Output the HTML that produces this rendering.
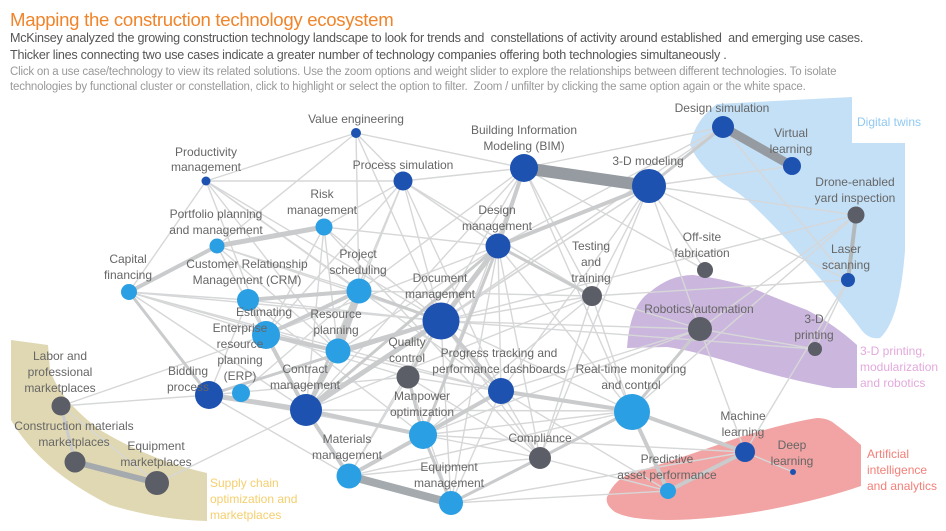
<!DOCTYPE html>
<html><head><meta charset="utf-8"><style>
body{margin:0;background:#fff;width:946px;height:531px;overflow:hidden;font-family:"Liberation Sans",sans-serif}
.t{position:absolute;left:10px;top:9px;font-size:18.6px;color:#f0842a;letter-spacing:-0.3px}
.d{position:absolute;left:10px;top:30px;font-size:12.6px;color:#555;line-height:17px;letter-spacing:-0.25px;white-space:nowrap}
.i{position:absolute;left:10px;top:65px;font-size:11.5px;color:#999;line-height:15px;letter-spacing:-0.2px;white-space:nowrap}
svg{position:absolute;left:0;top:0}
svg text{font-family:"Liberation Sans",sans-serif;font-size:12px;fill:#666;text-anchor:middle}
</style></head><body>
<div class="t">Mapping the construction technology ecosystem</div>
<div class="d">McKinsey analyzed the growing construction technology landscape to look for trends and&nbsp; constellations of activity around established&nbsp; and emerging use cases.<br>Thicker lines connecting two use cases indicate a greater number of technology companies offering both technologies simultaneously .</div>
<div class="i">Click on a use case/technology to view its related solutions. Use the zoom options and weight slider to explore the relationships between different technologies. To isolate<br>technologies by functional cluster or constellation, click to highlight or select the option to filter.&nbsp; Zoom / unfilter by clicking the same option again or the white space.</div>
<svg width="946" height="531" viewBox="0 0 946 531">
<path d="M717,104 L852,97 L852,143 L905,143 L905,250 Q900,320 880,338 Q868,340 860,328 Q835,295 787,240 Q745,195 733,190 Q700,170 690,145 Q695,120 717,104 Z" fill="#c4e0f7"/>
<path d="M627,348 Q630,305 650,292 Q670,275 693,275 Q720,278 750,287 Q780,300 807,310 Q835,325 857,345 L857,388 L833,388 Q780,378 733,363 Q690,350 667,347 Z" fill="#cbb6dd"/>
<path d="M607,497 Q615,478 633,473 Q690,455 740,437 Q790,422 817,418 Q828,418 835,424 Q850,435 861,445 L861,486 Q820,500 767,510 Q710,520 667,520 Q630,520 615,512 Q605,505 607,497 Z" fill="#f1a4a3"/>
<path d="M11,340 L11,420 Q40,470 110,505 Q160,520 207,521 L207,473 Q150,460 100,430 Q60,400 50,370 L48,345 Z" fill="#e0d8b2"/>
<g fill="none" stroke-linecap="round">
<g stroke="#d6d7d8" stroke-width="1.4">
<line x1="356" y1="133" x2="206" y2="181"/><line x1="356" y1="133" x2="403" y2="181"/><line x1="356" y1="133" x2="524" y2="168"/><line x1="356" y1="133" x2="217" y2="246"/><line x1="356" y1="133" x2="359" y2="291"/><line x1="356" y1="133" x2="441" y2="321"/>
<line x1="206" y1="181" x2="403" y2="181"/><line x1="206" y1="181" x2="359" y2="291"/><line x1="206" y1="181" x2="266" y2="335"/><line x1="206" y1="181" x2="441" y2="321"/><line x1="206" y1="181" x2="129" y2="292"/><line x1="206" y1="181" x2="338" y2="351"/><line x1="206" y1="181" x2="501" y2="391"/>
<line x1="403" y1="181" x2="524" y2="168"/><line x1="403" y1="181" x2="324" y2="227"/><line x1="403" y1="181" x2="498" y2="246"/><line x1="403" y1="181" x2="441" y2="321"/><line x1="403" y1="181" x2="359" y2="291"/><line x1="403" y1="181" x2="266" y2="335"/><line x1="403" y1="181" x2="306" y2="410"/><line x1="403" y1="181" x2="501" y2="391"/><line x1="403" y1="181" x2="592" y2="296"/>
<line x1="524" y1="168" x2="359" y2="291"/><line x1="524" y1="168" x2="592" y2="296"/><line x1="524" y1="168" x2="723" y2="127"/><line x1="524" y1="168" x2="306" y2="410"/><line x1="524" y1="168" x2="631" y2="411"/><line x1="524" y1="168" x2="705" y2="270"/><line x1="524" y1="168" x2="423" y2="435"/><line x1="524" y1="168" x2="349" y2="476"/>
<line x1="649" y1="186" x2="792" y2="166"/><line x1="649" y1="186" x2="856" y2="215"/><line x1="649" y1="186" x2="848" y2="280"/><line x1="649" y1="186" x2="705" y2="270"/><line x1="649" y1="186" x2="700" y2="329"/><line x1="649" y1="186" x2="592" y2="296"/><line x1="649" y1="186" x2="441" y2="321"/><line x1="649" y1="186" x2="501" y2="391"/><line x1="649" y1="186" x2="306" y2="410"/><line x1="649" y1="186" x2="540" y2="458"/>
<line x1="723" y1="127" x2="441" y2="321"/><line x1="723" y1="127" x2="848" y2="280"/><line x1="723" y1="127" x2="498" y2="246"/>
<line x1="856" y1="215" x2="700" y2="329"/><line x1="856" y1="215" x2="441" y2="321"/><line x1="856" y1="215" x2="631" y2="411"/><line x1="848" y1="280" x2="745" y2="452"/><line x1="848" y1="280" x2="815" y2="349"/><line x1="848" y1="280" x2="592" y2="296"/>
<line x1="700" y1="329" x2="815" y2="349"/><line x1="700" y1="329" x2="745" y2="452"/><line x1="700" y1="329" x2="592" y2="296"/><line x1="700" y1="329" x2="441" y2="321"/><line x1="700" y1="329" x2="501" y2="391"/><line x1="700" y1="329" x2="423" y2="435"/>
<line x1="592" y1="296" x2="540" y2="458"/><line x1="592" y1="296" x2="441" y2="321"/><line x1="592" y1="296" x2="359" y2="291"/><line x1="592" y1="296" x2="631" y2="411"/><line x1="592" y1="296" x2="306" y2="410"/><line x1="592" y1="296" x2="423" y2="435"/>
<line x1="498" y1="246" x2="266" y2="335"/><line x1="498" y1="246" x2="338" y2="351"/><line x1="498" y1="246" x2="501" y2="391"/><line x1="498" y1="246" x2="631" y2="411"/><line x1="498" y1="246" x2="540" y2="458"/><line x1="498" y1="246" x2="451" y2="503"/>
<line x1="324" y1="227" x2="441" y2="321"/><line x1="324" y1="227" x2="338" y2="351"/><line x1="324" y1="227" x2="266" y2="335"/><line x1="324" y1="227" x2="306" y2="410"/><line x1="324" y1="227" x2="540" y2="458"/><line x1="324" y1="227" x2="498" y2="246"/>
<line x1="217" y1="246" x2="359" y2="291"/><line x1="217" y1="246" x2="266" y2="335"/><line x1="217" y1="246" x2="338" y2="351"/><line x1="217" y1="246" x2="306" y2="410"/><line x1="217" y1="246" x2="441" y2="321"/>
<line x1="129" y1="292" x2="248" y2="300"/><line x1="129" y1="292" x2="441" y2="321"/><line x1="129" y1="292" x2="338" y2="351"/><line x1="129" y1="292" x2="306" y2="410"/><line x1="129" y1="292" x2="266" y2="335"/><line x1="129" y1="292" x2="501" y2="391"/>
<line x1="248" y1="300" x2="441" y2="321"/><line x1="248" y1="300" x2="306" y2="410"/><line x1="248" y1="300" x2="209" y2="395"/><line x1="248" y1="300" x2="423" y2="435"/>
<line x1="441" y1="321" x2="631" y2="411"/><line x1="441" y1="321" x2="540" y2="458"/><line x1="441" y1="321" x2="209" y2="395"/><line x1="441" y1="321" x2="349" y2="476"/><line x1="441" y1="321" x2="451" y2="503"/><line x1="441" y1="321" x2="815" y2="349"/>
<line x1="408" y1="377" x2="631" y2="411"/><line x1="408" y1="377" x2="540" y2="458"/><line x1="408" y1="377" x2="266" y2="335"/><line x1="408" y1="377" x2="209" y2="395"/><line x1="408" y1="377" x2="451" y2="503"/>
<line x1="501" y1="391" x2="540" y2="458"/><line x1="501" y1="391" x2="451" y2="503"/><line x1="501" y1="391" x2="349" y2="476"/><line x1="501" y1="391" x2="266" y2="335"/><line x1="501" y1="391" x2="668" y2="491"/>
<line x1="631" y1="411" x2="423" y2="435"/><line x1="631" y1="411" x2="451" y2="503"/><line x1="631" y1="411" x2="349" y2="476"/><line x1="631" y1="411" x2="306" y2="410"/>
<line x1="540" y1="458" x2="668" y2="491"/><line x1="540" y1="458" x2="349" y2="476"/><line x1="540" y1="458" x2="423" y2="435"/>
<line x1="451" y1="503" x2="668" y2="491"/><line x1="451" y1="503" x2="745" y2="452"/><line x1="423" y1="435" x2="745" y2="452"/>
<line x1="61" y1="406" x2="209" y2="395"/><line x1="61" y1="406" x2="266" y2="335"/><line x1="157" y1="483" x2="306" y2="410"/><line x1="61" y1="406" x2="157" y2="483"/><line x1="61" y1="406" x2="75" y2="462"/>
<line x1="745" y1="452" x2="793" y2="472"/><line x1="209" y1="395" x2="423" y2="435"/><line x1="209" y1="395" x2="349" y2="476"/><line x1="241" y1="393" x2="359" y2="291"/>
</g>
<g stroke="#c9cbcc" stroke-width="4">
<line x1="359" y1="291" x2="338" y2="351" stroke-width="7"/><line x1="217" y1="246" x2="324" y2="227" stroke-width="5"/><line x1="129" y1="292" x2="217" y2="246"/><line x1="441" y1="321" x2="498" y2="246" stroke-width="5"/><line x1="524" y1="168" x2="498" y2="246"/><line x1="649" y1="186" x2="498" y2="246"/>
<line x1="631" y1="411" x2="745" y2="452"/><line x1="631" y1="411" x2="668" y2="491"/><line x1="745" y1="452" x2="668" y2="491"/><line x1="306" y1="410" x2="441" y2="321" stroke-width="5"/><line x1="266" y1="335" x2="359" y2="291"/><line x1="248" y1="300" x2="359" y2="291"/>
<line x1="209" y1="395" x2="306" y2="410" stroke-width="5"/><line x1="306" y1="410" x2="423" y2="435"/><line x1="501" y1="391" x2="631" y2="411"/><line x1="441" y1="321" x2="501" y2="391"/><line x1="423" y1="435" x2="349" y2="476"/><line x1="423" y1="435" x2="501" y2="391"/>
<line x1="266" y1="335" x2="338" y2="351"/><line x1="266" y1="335" x2="306" y2="410"/><line x1="338" y1="351" x2="441" y2="321"/><line x1="338" y1="351" x2="306" y2="410"/><line x1="209" y1="395" x2="441" y2="321" stroke-width="3"/><line x1="306" y1="410" x2="349" y2="476"/>
<line x1="540" y1="458" x2="631" y2="411" stroke-width="3"/><line x1="451" y1="503" x2="540" y2="458" stroke-width="3"/><line x1="423" y1="435" x2="451" y2="503" stroke-width="3"/><line x1="498" y1="246" x2="423" y2="435" stroke-width="3"/><line x1="498" y1="246" x2="306" y2="410" stroke-width="3"/>
<line x1="856" y1="215" x2="848" y2="280" stroke="#b3b8bb"/><line x1="129" y1="292" x2="209" y2="395" stroke-width="3"/><line x1="359" y1="291" x2="441" y2="321" stroke-width="3"/><line x1="359" y1="291" x2="306" y2="410" stroke-width="3"/><line x1="61" y1="406" x2="75" y2="462" stroke-width="3"/>
<line x1="649" y1="186" x2="723" y2="127" stroke-width="3"/><line x1="592" y1="296" x2="498" y2="246" stroke-width="3"/><line x1="700" y1="329" x2="631" y2="411" stroke-width="3"/><line x1="408" y1="377" x2="441" y2="321" stroke-width="3"/><line x1="408" y1="377" x2="423" y2="435" stroke-width="3"/>
</g>
<g stroke="#959ba0">
<line x1="524" y1="168" x2="649" y2="186" stroke-width="12"/><line x1="723" y1="127" x2="792" y2="166" stroke-width="9"/><line x1="349" y1="476" x2="451" y2="503" stroke-width="8" stroke="#a5aaae"/><line x1="75" y1="462" x2="157" y2="483" stroke-width="6" stroke="#a5aaae"/>
</g>
</g>
<g>
<circle cx="356" cy="133" r="5" fill="#1d52b0"/><circle cx="206" cy="181" r="4.5" fill="#1d52b0"/><circle cx="403" cy="181" r="9.5" fill="#1d52b0"/><circle cx="524" cy="168" r="14" fill="#1d52b0"/><circle cx="649" cy="186" r="17" fill="#1d52b0"/><circle cx="723" cy="127" r="11" fill="#1d52b0"/><circle cx="792" cy="166" r="9" fill="#1d52b0"/>
<circle cx="856" cy="215" r="8.5" fill="#5b5e66"/><circle cx="848" cy="280" r="7" fill="#1d52b0"/><circle cx="815" cy="349" r="7" fill="#5b5e66"/><circle cx="705" cy="270" r="8" fill="#5b5e66"/><circle cx="700" cy="329" r="12" fill="#5b5e66"/><circle cx="592" cy="296" r="10" fill="#5b5e66"/>
<circle cx="498" cy="246" r="12.5" fill="#1d52b0"/><circle cx="324" cy="227" r="8.5" fill="#2b9fe3"/><circle cx="217" cy="246" r="7.5" fill="#2b9fe3"/><circle cx="129" cy="292" r="8" fill="#2b9fe3"/><circle cx="248" cy="300" r="11" fill="#2b9fe3"/><circle cx="359" cy="291" r="12.5" fill="#2b9fe3"/>
<circle cx="441" cy="321" r="18.5" fill="#1d52b0"/><circle cx="266" cy="335" r="14" fill="#2b9fe3"/><circle cx="338" cy="351" r="12.5" fill="#2b9fe3"/><circle cx="408" cy="377" r="11.5" fill="#5b5e66"/><circle cx="241" cy="393" r="9" fill="#2b9fe3"/><circle cx="209" cy="395" r="14" fill="#1d52b0"/>
<circle cx="306" cy="410" r="16" fill="#1d52b0"/><circle cx="501" cy="391" r="13" fill="#1d52b0"/><circle cx="632" cy="412" r="18" fill="#2b9fe3"/><circle cx="423" cy="435" r="14" fill="#2b9fe3"/><circle cx="349" cy="476" r="12.5" fill="#2b9fe3"/><circle cx="451" cy="503" r="12" fill="#2b9fe3"/><circle cx="540" cy="458" r="11" fill="#5b5e66"/>
<circle cx="61" cy="406" r="9.5" fill="#5b5e66"/><circle cx="75" cy="462" r="10.5" fill="#5b5e66"/><circle cx="157" cy="483" r="12" fill="#5b5e66"/><circle cx="745" cy="452" r="10" fill="#1d52b0"/><circle cx="793" cy="472" r="3" fill="#1d52b0"/><circle cx="668" cy="491" r="8" fill="#2b9fe3"/>
</g>
<g>
<text x="356" y="123">Value engineering</text>
<text x="206" y="156">Productivity</text><text x="206" y="171">management</text>
<text x="403" y="169">Process simulation</text>
<text x="524" y="134">Building Information</text><text x="524" y="150">Modeling (BIM)</text>
<text x="648" y="165">3-D modeling</text>
<text x="722" y="112">Design simulation</text>
<text x="791" y="137">Virtual</text><text x="791" y="153">learning</text>
<text x="855" y="186">Drone-enabled</text><text x="855" y="202">yard inspection</text>
<text x="846" y="253">Laser</text><text x="846" y="269">scanning</text>
<text x="814" y="323">3-D</text><text x="814" y="339">printing</text>
<text x="702" y="241">Off-site</text><text x="702" y="257">fabrication</text>
<text x="699" y="313">Robotics/automation</text>
<text x="591" y="250">Testing</text><text x="591" y="266">and</text><text x="591" y="282">training</text>
<text x="497" y="214">Design</text><text x="497" y="230">management</text>
<text x="322" y="198">Risk</text><text x="322" y="214">management</text>
<text x="216" y="218">Portfolio planning</text><text x="216" y="234">and management</text>
<text x="128" y="263">Capital</text><text x="128" y="279">financing</text>
<text x="247" y="268">Customer Relationship</text><text x="247" y="284">Management (CRM)</text>
<text x="358" y="258">Project</text><text x="358" y="274">scheduling</text>
<text x="440" y="282">Document</text><text x="440" y="298">management</text>
<text x="264" y="316">Estimating</text>
<text x="336" y="318">Resource</text><text x="336" y="334">planning</text>
<text x="407" y="346">Quality</text><text x="407" y="362">control</text>
<text x="240" y="332">Enterprise</text><text x="240" y="348">resource</text><text x="240" y="364">planning</text><text x="240" y="380">(ERP)</text>
<text x="188" y="375">Bidding</text><text x="188" y="391">process</text>
<text x="305" y="373">Contract</text><text x="305" y="389">management</text>
<text x="499" y="357">Progress tracking and</text><text x="499" y="373">performance dashboards</text>
<text x="631" y="373">Real-time monitoring</text><text x="631" y="389">and control</text>
<text x="422" y="400">Manpower</text><text x="422" y="416">optimization</text>
<text x="347" y="443">Materials</text><text x="347" y="459">management</text>
<text x="449" y="471">Equipment</text><text x="449" y="487">management</text>
<text x="540" y="442">Compliance</text>
<text x="60" y="360">Labor and</text><text x="60" y="376">professional</text><text x="60" y="392">marketplaces</text>
<text x="74" y="430">Construction materials</text><text x="74" y="446">marketplaces</text>
<text x="156" y="450">Equipment</text><text x="156" y="466">marketplaces</text>
<text x="743" y="420">Machine</text><text x="743" y="436">learning</text>
<text x="792" y="449">Deep</text><text x="792" y="465">learning</text>
<text x="667" y="463">Predictive</text><text x="667" y="479">asset performance</text>
</g>
<g>
<text x="857" y="126" style="fill:#8fc9f2;text-anchor:start">Digital twins</text>
<text x="860" y="355" style="fill:#e3a9dc;text-anchor:start">3-D printing,</text><text x="860" y="371" style="fill:#e3a9dc;text-anchor:start">modularization</text><text x="860" y="387" style="fill:#e3a9dc;text-anchor:start">and robotics</text>
<text x="867" y="458" style="fill:#f27f78;text-anchor:start">Artificial</text><text x="867" y="474" style="fill:#f27f78;text-anchor:start">intelligence</text><text x="867" y="490" style="fill:#f27f78;text-anchor:start">and analytics</text>
<text x="210" y="487" style="fill:#f5cf6e;text-anchor:start">Supply chain</text><text x="210" y="503" style="fill:#f5cf6e;text-anchor:start">optimization and</text><text x="210" y="519" style="fill:#f5cf6e;text-anchor:start">marketplaces</text>
</g>
</svg>
</body></html>
